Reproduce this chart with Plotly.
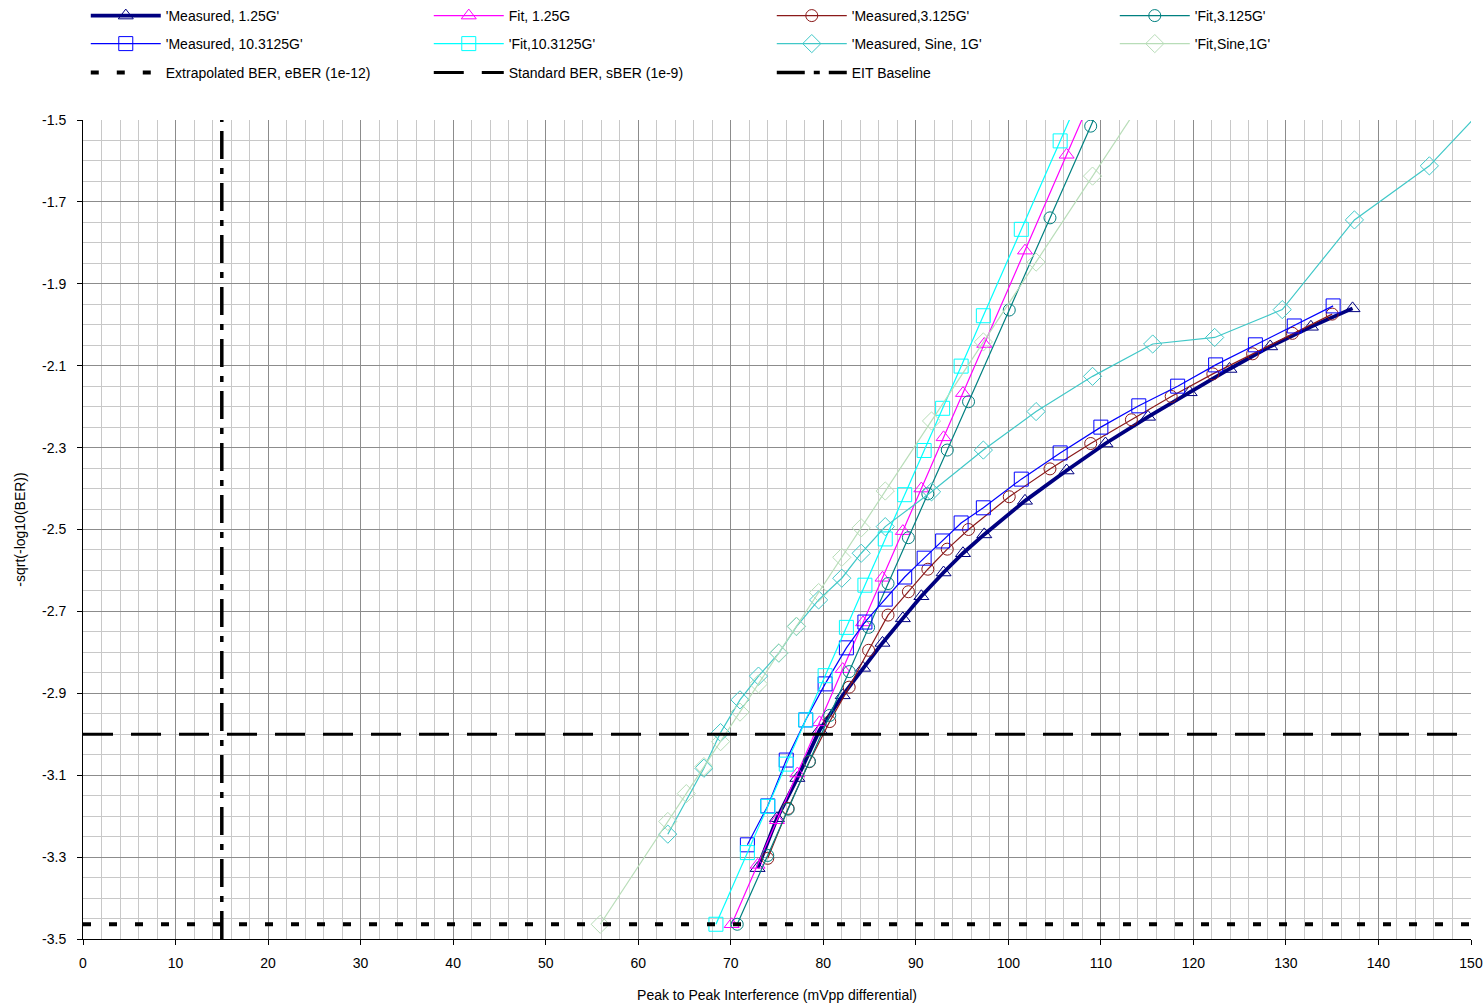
import plotly.graph_objects as go

# ---------------- data ----------------
m125_x = [72.9, 75.0, 77.2, 79.6, 82.1, 84.3, 86.4, 88.6, 90.6, 93.0, 95.1, 97.4, 101.8, 106.3, 110.5,
          115.1, 119.6, 123.9, 128.3, 132.7, 137.2]
m125_y = [-3.327, -3.205, -3.107, -2.990, -2.905, -2.838, -2.777, -2.717, -2.663, -2.605, -2.558, -2.512,
          -2.430, -2.356, -2.290, -2.225, -2.165, -2.108, -2.053, -2.005, -1.960]

f125_x = [70.1, 72.9, 75.0, 77.2, 79.6, 82.1, 84.3, 86.4, 88.6, 90.6, 93.0, 95.1, 97.4, 101.8, 106.3, 110.5]
f125_y = [-3.464, -3.319, -3.210, -3.096, -2.971, -2.841, -2.727, -2.618, -2.504, -2.400, -2.275, -2.167,
          -2.047, -1.819, -1.585, -1.367]

m3125_x = [74.0, 76.2, 78.5, 80.7, 82.8, 84.9, 87.0, 89.2, 91.3, 93.4, 95.7, 100.1, 104.5, 108.9, 113.3,
           117.6, 122.1, 126.4, 130.7, 135.0]
m3125_y = [-3.303, -3.181, -3.067, -2.969, -2.885, -2.795, -2.709, -2.652, -2.597, -2.548, -2.500, -2.420,
           -2.352, -2.290, -2.232, -2.175, -2.120, -2.071, -2.021, -1.974]

f3125_x = [70.7, 74.0, 76.2, 78.5, 80.7, 82.8, 84.9, 87.0, 89.2, 91.3, 93.4, 95.7, 100.1, 104.5, 108.9, 113.3]
f3125_y = [-3.464, -3.296, -3.183, -3.066, -2.954, -2.847, -2.739, -2.632, -2.520, -2.413, -2.306, -2.188,
           -1.964, -1.739, -1.515, -1.290]

m10_x = [71.8, 74.0, 76.0, 78.1, 80.2, 82.5, 84.5, 86.7, 88.8, 90.9, 92.9, 94.9, 97.3, 101.4, 105.6, 110.0,
         114.1, 118.3, 122.4, 126.7, 130.9, 135.1]
m10_y = [-3.270, -3.175, -3.063, -2.965, -2.877, -2.789, -2.726, -2.670, -2.616, -2.570, -2.528, -2.484,
         -2.447, -2.377, -2.313, -2.250, -2.198, -2.150, -2.098, -2.049, -2.003, -1.954]

f10_x = [68.4, 71.8, 74.0, 76.0, 78.1, 80.2, 82.5, 84.5, 86.7, 88.8, 90.9, 92.9, 94.9, 97.3, 101.4, 105.6, 110.0]
f10_y = [-3.464, -3.289, -3.176, -3.073, -2.965, -2.857, -2.739, -2.636, -2.523, -2.415, -2.307, -2.204,
         -2.101, -1.978, -1.767, -1.551, -1.325]

msine_x = [63.2, 67.1, 68.9, 71.0, 73.0, 75.2, 77.1, 79.5, 82.0, 84.1, 86.7, 91.7, 97.3, 103.0, 109.1,
           115.6, 122.3, 129.6, 137.4, 145.5, 153.5]
msine_y = [-3.244, -3.083, -2.996, -2.916, -2.858, -2.802, -2.737, -2.672, -2.619, -2.558, -2.493, -2.408,
           -2.306, -2.212, -2.126, -2.047, -2.031, -1.963, -1.744, -1.612, -1.420]

fsine_x = [55.9, 63.2, 65.2, 67.1, 68.9, 71.0, 73.0, 75.2, 77.1, 79.5, 82.0, 84.1, 86.7, 91.7, 97.3, 103.0,
           109.1, 115.6]
fsine_y = [-3.464, -3.213, -3.145, -3.079, -3.018, -2.946, -2.877, -2.801, -2.736, -2.654, -2.568, -2.496,
           -2.406, -2.235, -2.042, -1.847, -1.637, -1.414]

ref_x_span = [0, 150]
ref_y_span = [-3.5, -1.5]
eber_level = -3.4641   # -sqrt(12)
sber_level = -3.0      # -sqrt(9)
eit_baseline = 15

x_tickvals = [0, 10, 20, 30, 40, 50, 60, 70, 80, 90, 100, 110, 120, 130, 140, 150]
y_tickvals = [-1.5, -1.7, -1.9, -2.1, -2.3, -2.5, -2.7, -2.9, -3.1, -3.3, -3.5]
y_ticktext = ["-1.5", "-1.7", "-1.9", "-2.1", "-2.3", "-2.5", "-2.7", "-2.9", "-3.1", "-3.3", "-3.5"]

FONT = "Liberation Sans, Arial, sans-serif"

fig = go.Figure()


def add_series(x, y, name, color, symbol, size, width, legend):
    fig.add_trace(go.Scatter(
        x=x, y=y, name=name, mode="lines+markers", legend=legend,
        line=dict(color=color, width=width),
        marker=dict(symbol=symbol, size=size, color=color, line=dict(color=color, width=1)),
    ))


add_series(m125_x, m125_y, "'Measured, 1.25G'", "#000080", "triangle-up-open", 13, 3.8, "legend")
add_series(f125_x, f125_y, "Fit, 1.25G", "#FF00FF", "triangle-up-open", 13, 1.2, "legend")
add_series(m3125_x, m3125_y, "'Measured,3.125G'", "#8B1A1A", "circle-open", 12, 1.2, "legend")
add_series(f3125_x, f3125_y, "'Fit,3.125G'", "#008080", "circle-open", 12, 1.2, "legend")
add_series(m10_x, m10_y, "'Measured, 10.3125G'", "#0000FF", "square-open", 14, 1.2, "legend2")
add_series(f10_x, f10_y, "'Fit,10.3125G'", "#00FFFF", "square-open", 14, 1.2, "legend2")
add_series(msine_x, msine_y, "'Measured, Sine, 1G'", "#40C8C8", "diamond-open", 14, 1.2, "legend2")
add_series(fsine_x, fsine_y, "'Fit,Sine,1G'", "#B8DDB8", "diamond-open", 14, 1.2, "legend2")

fig.add_trace(go.Scatter(
    x=ref_x_span, y=[eber_level, eber_level], mode="lines", name="Extrapolated BER, eBER (1e-12)",
    legend="legend3", line=dict(color="black", width=4, dash="8px,18px")))
fig.add_trace(go.Scatter(
    x=ref_x_span, y=[sber_level, sber_level], mode="lines", name="Standard BER, sBER (1e-9)",
    legend="legend3", line=dict(color="black", width=3, dash="30px,18px")))
fig.add_trace(go.Scatter(
    x=[eit_baseline, eit_baseline], y=ref_y_span, mode="lines", name="EIT Baseline",
    legend="legend3", line=dict(color="black", width=3.5, dash="28px,9px,6px,9px")))

leg_common = dict(orientation="h", xanchor="left", yanchor="middle", x=0.002,
                  entrywidth=258, entrywidthmode="pixels", itemwidth=70,
                  font=dict(family=FONT, size=14, color="black"),
                  bgcolor="rgba(0,0,0,0)", borderwidth=0, traceorder="normal")

fig.update_layout(
    width=1483, height=1006,
    margin=dict(l=83, r=12, t=120, b=67, autoexpand=False),
    paper_bgcolor="white", plot_bgcolor="white",
    font=dict(family=FONT, size=14, color="black"),
    legend=dict(y=1.127, **leg_common),
    legend2=dict(y=1.0928, **leg_common),
    legend3=dict(y=1.0574, **leg_common),
    xaxis=dict(
        range=[0, 150], tickvals=x_tickvals, ticks="outside", ticklen=5, tickcolor="black",
        showline=True, linecolor="black", linewidth=1, zeroline=False, automargin=False,
        showgrid=True, gridcolor="#8C8C8C", gridwidth=1, ticklabelstandoff=6,
        minor=dict(dtick=2, tick0=0, showgrid=True, gridcolor="#C8C8C8", gridwidth=1, ticks=""),
        tickfont=dict(family=FONT, size=14, color="black"),
        title=dict(text="Peak to Peak Interference (mVpp differential)",
                   font=dict(family=FONT, size=14, color="black"), standoff=20),
    ),
    yaxis=dict(
        range=[-3.5, -1.5], tickvals=y_tickvals, ticktext=y_ticktext, ticks="outside", ticklen=5,
        tickcolor="black", showline=True, linecolor="black", linewidth=1, zeroline=False, automargin=False,
        showgrid=True, gridcolor="#8C8C8C", gridwidth=1, ticklabelstandoff=8,
        minor=dict(dtick=0.05, tick0=-1.5, showgrid=True, gridcolor="#C8C8C8", gridwidth=1, ticks=""),
        tickfont=dict(family=FONT, size=14, color="black"),
        title=dict(text="-sqrt(-log10(BER))", font=dict(family=FONT, size=14, color="black"), standoff=13),
    ),
)

fig.write_html("out.html", config={"displayModeBar": False},
               post_script="document.body.style.margin='0px';")
